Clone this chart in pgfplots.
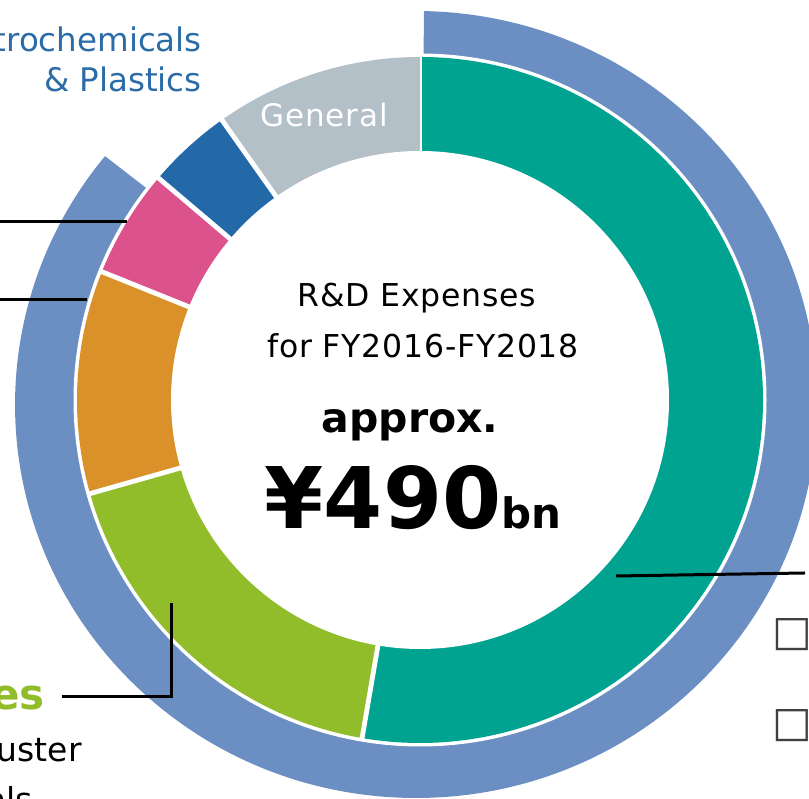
\documentclass[border=0pt]{standalone}
\usepackage{fontspec}
\setmainfont{DejaVu Sans}
\usepackage{pgfplots}
\usepackage{pgfplotstable}
\pgfplotsset{compat=1.18}

\definecolor{cTeal}{HTML}{00A390}
\definecolor{cGreen}{HTML}{92BD2B}
\definecolor{cOrange}{HTML}{DB912A}
\definecolor{cPink}{HTML}{DB528D}
\definecolor{cBlue}{HTML}{2369A8}
\definecolor{cGray}{HTML}{B4C0C8}
\definecolor{cRing}{HTML}{6B8FC3}
\definecolor{cLabel}{HTML}{2B6CA8}
\definecolor{cBox}{HTML}{404040}

% share of R&D expenses (percent), clockwise from the top
\pgfplotstableread{
share colour
52.7 cTeal
17.9 cGreen
10.5 cOrange
5.1  cPink
4.0  cBlue
9.8  cGray
}\pietable

\def\cum{0}
\pgfplotsforeachungrouped \i in {0,...,5}{%
  \pgfplotstablegetelem{\i}{share}\of\pietable
  \pgfmathsetmacro{\sa}{90-3.6*\cum}%
  \pgfmathsetmacro{\newcum}{\cum+\pgfplotsretval}%
  \pgfmathsetmacro{\ea}{90-3.6*\newcum}%
  \expandafter\xdef\csname sa\i\endcsname{\sa}%
  \expandafter\xdef\csname ea\i\endcsname{\ea}%
  \pgfplotstablegetelem{\i}{colour}\of\pietable
  \expandafter\xdef\csname co\i\endcsname{\pgfplotsretval}%
  \xdef\cum{\newcum}%
}

\newcommand\fs[1]{\fontsize{#1}{#1}\selectfont}

\begin{document}
\begin{tikzpicture}
\begin{axis}[
  width=809pt, height=799pt, scale only axis,
  xmin=-420, xmax=389, ymin=-399, ymax=400,
  hide axis, clip=true,
]
% outer ring (cumulative band)
\fill[cRing] (0,0) -- (4,388.9) arc[start angle=88.86, end angle=-219.14, x radius=401pt, y radius=393.5pt] -- cycle;
\fill[white] (0,0) circle[radius=346.5pt];
% donut segments
\pgfplotsinvokeforeach{0,...,5}{%
  \edef\tmp{\noexpand\fill[fill=\csname co#1\endcsname] (0,0) -- ++(\csname sa#1\endcsname:343pt) arc[start angle=\csname sa#1\endcsname, end angle=\csname ea#1\endcsname, radius=343pt] -- cycle;}\tmp
  \edef\tmp{\noexpand\draw[white, line width=4.8pt] (0,0) -- ++(\csname sa#1\endcsname:344pt);}\tmp
}
\fill[white] (0,0) circle[radius=249pt];

% leader lines
\addplot[black, line width=3pt, forget plot] coordinates {(-425,178) (-293,178)};
\addplot[black, line width=3pt, forget plot] coordinates {(-425,100) (-333,100)};
\addplot[black, line width=3pt, forget plot] coordinates {(-358,-297) (-249,-297) (-249,-203)};
\addplot[black, line width=3pt, forget plot] coordinates {(196,-176) (385,-173)};

% texts
\node[anchor=base, white, inner sep=0pt] at (-96,273) {\fs{31}\addfontfeature{LetterSpace=3}General};
\node[anchor=base east, text=cLabel, inner sep=0pt] at (-218,348) {\fs{32.5}Petrochemicals};
\node[anchor=base east, text=cLabel, inner sep=0pt] at (-218,308) {\fs{32.5}\& Plastics};
\node[anchor=base, inner sep=0pt] at (-3,93.3) {\fs{31.5}\addfontfeature{LetterSpace=2.5}R\&D Expenses};
\node[anchor=base, inner sep=0pt] at (3,42.3) {\fs{31.5}\addfontfeature{LetterSpace=2.5}for FY2016-FY2018};
\node[anchor=base, inner sep=0pt] at (-10,-33) {\fs{41}\bfseries approx.};
\node[anchor=base, inner sep=0pt] at (-7,-129) {\fs{85}\bfseries ¥490{\fs{42}bn}};
\node[anchor=base east, text=cGreen, inner sep=0pt] at (-375,-310) {\fs{42}\bfseries es};
\node[anchor=base east, inner sep=0pt] at (-338,-362) {\fs{33}uster};
\node[anchor=base east, inner sep=0pt] at (-387,-412) {\fs{33}als};
\node[anchor=base west, text=cBox, inner sep=0pt] at (352,-246) {\fs{42}□};
\node[anchor=base west, text=cBox, inner sep=0pt] at (352,-337) {\fs{42}□};
\end{axis}
\pgfresetboundingbox
\path[use as bounding box] (current axis.south west) rectangle (current axis.north east);
\end{tikzpicture}
\end{document}
